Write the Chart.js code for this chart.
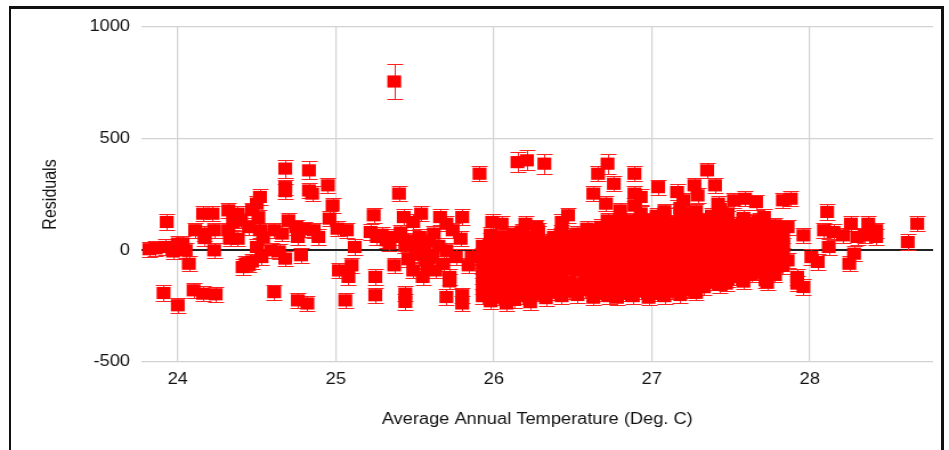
<!DOCTYPE html>
<html>
<head>
<meta charset="utf-8">
<script src="https://cdn.jsdelivr.net/npm/chart.js@4.4.1/dist/chart.umd.min.js"></script>
<style>
  body { margin: 0; background: #fff; width: 949px; height: 450px; overflow: hidden; position: relative; }
  #chart { position: absolute; left: 0; top: 0; transform: scaleX(1.1406); transform-origin: 0 0; }
  #frame { position: absolute; left: 9px; top: 6px; width: 930px; height: 470px;
           border-left: 2px solid #111; border-top: 3px solid #111; border-right: 3px solid #111; }
</style>
</head>
<body>
<canvas id="chart" width="832" height="450"></canvas>
<div id="frame"></div>
<script>
// [temperature, residual, error?] - error defaults to defaultError
const defaultError = 34;

const coolPoints = [
  [23.82, 5], [23.86, 9], [23.92, 15], [23.98, 15], [24.03, 31], [24.05, 0], [24.0, 30], [23.97, -5],
  [23.93, 127], [24.07, -60], [23.91, -191], [24.0, -246], [24.10, -179], [24.16, -194], [24.24, -197],
  [24.16, 164], [24.22, 164], [24.11, 90], [24.17, 75], [24.23, 90], [24.23, 0], [24.17, 55],
  [24.32, 179], [24.38, 164], [24.35, 127], [24.40, 134], [24.33, 52], [24.38, 52], [24.32, 90],
  [24.45, 104], [24.52, 239], [24.50, 209], [24.47, 180], [24.51, 145], [24.52, 90], [24.50, 15],
  [24.43, -60], [24.47, -50], [24.53, -30], [24.59, 0], [24.64, -5], [24.41, -75], [24.45, -65],
  [24.61, -187], [24.68, 366, 40], [24.68, 283], [24.68, 265], [24.83, 358, 40], [24.83, 268],
  [24.70, 134], [24.75, 104], [24.76, 60], [24.80, 95], [24.68, -37], [24.78, -22], [24.76, -224],
  [24.82, -238], [24.66, 75], [24.61, 90], [24.54, 60]
];

const midPoints = [
  [24.95, 291], [24.85, 254], [24.98, 201], [24.96, 142], [24.86, 90], [24.89, 60], [25.01, 97],
  [25.07, 90], [25.12, 15], [25.02, -90], [25.10, -67], [25.08, -119], [25.06, -224], [25.24, 157],
  [25.22, 82], [25.26, 60], [25.32, 45], [25.37, 60], [25.40, 254], [25.25, -119], [25.25, -201],
  [25.37, -67], [25.44, -194], [25.44, -231], [25.43, 149], [25.54, 164], [25.49, 127], [25.46, 45],
  [25.51, 15], [25.56, 0], [25.49, -90], [25.55, -119], [25.61, -30], [25.66, 149], [25.70, 119],
  [25.62, 75], [25.74, 90], [25.80, 149], [25.79, 52], [25.70, 0], [25.76, -30], [25.68, -60],
  [25.72, -119], [25.72, -139], [25.70, -209], [25.80, -201], [25.80, -238], [25.84, -67],
  [25.86, -30], [25.63, -90], [25.57, -45], [25.29, 70], [25.34, 30], [25.41, 80], [25.44, 20],
  [25.53, 60], [25.59, 40], [25.65, 20], [25.52, -20], [25.46, -40], [25.58, -70],
  [25.37, 756, 78]
];

const upperPoints = [
  [25.91, 343], [26.15, 395, 45], [26.21, 403, 45], [26.32, 388, 45], [25.99, 127], [26.05, 119],
  [26.20, 119], [26.27, 104], [26.43, 127], [26.47, 157], [26.63, 254], [26.66, 343],
  [26.72, 388, 45], [26.76, 298], [26.71, 209], [26.80, 179], [26.72, 134], [26.80, 134],
  [26.89, 343], [26.89, 254], [26.89, 200], [26.59, 97]
];

// dense cloud, one column per temperature
const denseColumns = [
  [25.93, [-205, -160, -115, -70, -25, 20]],
  [25.98, [-228, -183, -138, -93, -48, -3, 42, 70]],
  [26.03, [-212, -167, -122, -77, -32, 13, 58]],
  [26.08, [-238, -193, -148, -103, -58, -13, 32, 60]],
  [26.13, [-222, -177, -132, -87, -42, 3, 48, 75]],
  [26.18, [-205, -160, -115, -70, -25, 20, 65, 85]],
  [26.23, [-232, -187, -142, -97, -52, -7, 38, 60]],
  [26.28, [-195, -150, -105, -60, -15, 30, 75, 90]],
  [26.33, [-214, -169, -124, -79, -34, 11, 40]],
  [26.38, [-190, -145, -100, -55, -10, 35, 60]],
  [26.43, [-205, -160, -115, -70, -25, 20, 65, 80]],
  [26.48, [-185, -140, -85, -40, 5, 50, 65]],
  [26.53, [-200, -155, -90, -45, 0, 45, 75]],
  [26.58, [-178, -133, -88, -43, 2, 47, 62]],
  [26.63, [-212, -167, -122, -77, -32, 13, 58, 85]],
  [26.68, [-195, -150, -105, -60, -15, 30, 75, 105]],
  [26.73, [-205, -160, -115, -70, -25, 20, 65, 80]],
  [26.78, [-212, -167, -122, -77, -32, 13, 58, 103, 115]],
  [26.83, [-195, -150, -105, -60, -15, 30, 75, 95]],
  [26.88, [-205, -160, -115, -70, -25, 20, 65, 110, 135]],
  [26.93, [-185, -140, -95, -50, -5, 40, 85, 130, 165]],
  [26.98, [-212, -167, -122, -77, -32, 13, 58, 103, 135]],
  [27.03, [-195, -150, -105, -60, -15, 30, 75, 120, 155]],
  [27.08, [-205, -160, -115, -70, -25, 20, 65, 110, 155, 175]],
  [27.13, [-185, -140, -95, -50, -5, 40, 85, 125]],
  [27.18, [-200, -155, -110, -65, -20, 25, 70, 115, 160, 190]],
  [27.23, [-175, -130, -85, -40, 5, 50, 95, 140, 165]],
  [27.28, [-190, -145, -100, -55, -10, 35, 80, 125, 175]],
  [27.33, [-165, -120, -75, -30, 15, 60, 105, 135]],
  [27.38, [-145, -100, -55, -10, 35, 80, 125, 155]],
  [27.43, [-155, -110, -65, -20, 25, 70, 115, 160, 185]],
  [27.48, [-130, -85, -40, 5, 50, 95, 140, 165]],
  [27.53, [-120, -75, -30, 15, 60, 105, 115]],
  [27.58, [-140, -95, -50, -5, 40, 85, 130, 145]],
  [27.63, [-110, -65, -20, 25, 70, 115, 125]],
  [27.68, [-100, -55, -10, 35, 80, 125, 135]],
  [27.73, [-90, -45, 0, 45, 90, 95]],
  [27.78, [-110, -65, -20, 25, 70, 112]],
  [27.83, [-70, -25, 20, 65, 102]]
];

const warmPoints = [
  [27.35, 358], [27.04, 283], [27.27, 291], [27.40, 291], [27.16, 261], [27.29, 246], [26.93, 239],
  [27.20, 224], [27.42, 209], [27.52, 224], [27.59, 231], [27.66, 216], [27.83, 224], [27.88, 231],
  [27.71, 149], [27.37, 127], [27.86, 104], [27.72, -134], [27.73, -142], [27.47, -149], [27.25, -179],
  [27.92, -149], [28.11, 172], [28.26, 119], [28.37, 119], [28.42, 90], [28.09, 90], [28.15, 82],
  [28.21, 67], [28.30, 60], [28.35, 67], [28.42, 60], [28.68, 119], [28.62, 37], [28.12, 15],
  [27.96, 67], [28.01, -30], [28.05, -52], [28.28, -15], [28.25, -60], [27.92, -119], [27.96, -164],
  [27.86, -45], [27.83, 22]
];

const xTicks = [24, 25, 26, 27, 28];
const yTicks = [-500, 0, 500, 1000];

const densePoints = [];
denseColumns.forEach(([t, residuals]) => residuals.forEach(r => densePoints.push([t, r])));

const allPoints = [...coolPoints, ...midPoints, ...upperPoints, ...densePoints, ...warmPoints];

const errorBars = {
    id: 'errorBars',
    beforeDatasetsDraw(chart) {
        const { ctx, chartArea, scales: { x, y } } = chart;
        ctx.save();
        ctx.beginPath();
        ctx.rect(chartArea.left, chartArea.top, chartArea.width, chartArea.height);
        ctx.clip();
        ctx.strokeStyle = '#ff2020';
        ctx.lineWidth = 1;
        allPoints.forEach(([t, r, e = defaultError]) => {
            const px = Math.round(x.getPixelForValue(t)) + 0.5;
            const top = Math.round(y.getPixelForValue(r + e)) + 0.5;
            const bottom = Math.round(y.getPixelForValue(r - e)) + 0.5;
            ctx.beginPath();
            ctx.moveTo(px, top); ctx.lineTo(px, bottom);
            ctx.moveTo(px - 7, top); ctx.lineTo(px + 7, top);
            ctx.moveTo(px - 7, bottom); ctx.lineTo(px + 7, bottom);
            ctx.stroke();
        });
        ctx.restore();
    }
};

const font = { family: "'Liberation Sans', Arial, sans-serif", size: 16 };

new Chart(document.getElementById('chart').getContext('2d'), {
    type: 'scatter',
    data: {
        datasets: [{
            data: allPoints.map(([t, r]) => ({ x: t, y: r })),
            pointStyle: 'rect',
            pointRadius: 8.6,
            pointHoverRadius: 8.6,
            borderWidth: 0,
            backgroundColor: '#ff0000'
        }]
    },
    options: {
        responsive: false,
        animation: false,
        events: [],
        layout: { padding: { top: 27, right: 14, left: 0, bottom: 0 } },
        plugins: { legend: { display: false }, tooltip: { enabled: false } },
        scales: {
            x: {
                type: 'linear',
                min: 23.77,
                max: 28.78,
                afterBuildTicks: axis => { axis.ticks = xTicks.map(value => ({ value })); },
                afterFit: axis => { axis.height = 88; },
                border: { display: false },
                grid: { color: '#d2d2d2', lineWidth: 1.2, drawTicks: false },
                ticks: { font, color: '#111', padding: 8, callback: v => String(v) },
                title: { display: true, text: 'Average Annual Temperature (Deg. C)', font, color: '#111',
                         padding: { top: 0, bottom: 21 } }
            },
            y: {
                min: -500,
                max: 1000,
                afterBuildTicks: axis => { axis.ticks = yTicks.map(value => ({ value })); },
                afterFit: axis => { axis.width = 124; },
                border: { display: false },
                grid: {
                    drawTicks: false,
                    color: ctx => ctx.tick.value === 0 ? '#222' : '#d2d2d2',
                    lineWidth: ctx => ctx.tick.value === 0 ? 2 : 1.2
                },
                ticks: { font, color: '#111', padding: 10, callback: v => String(v) },
                title: { display: true, text: 'Residuals', font, color: '#111', padding: { top: 35, bottom: 0 } }
            }
        }
    },
    plugins: [errorBars]
});
</script>
</body>
</html>
